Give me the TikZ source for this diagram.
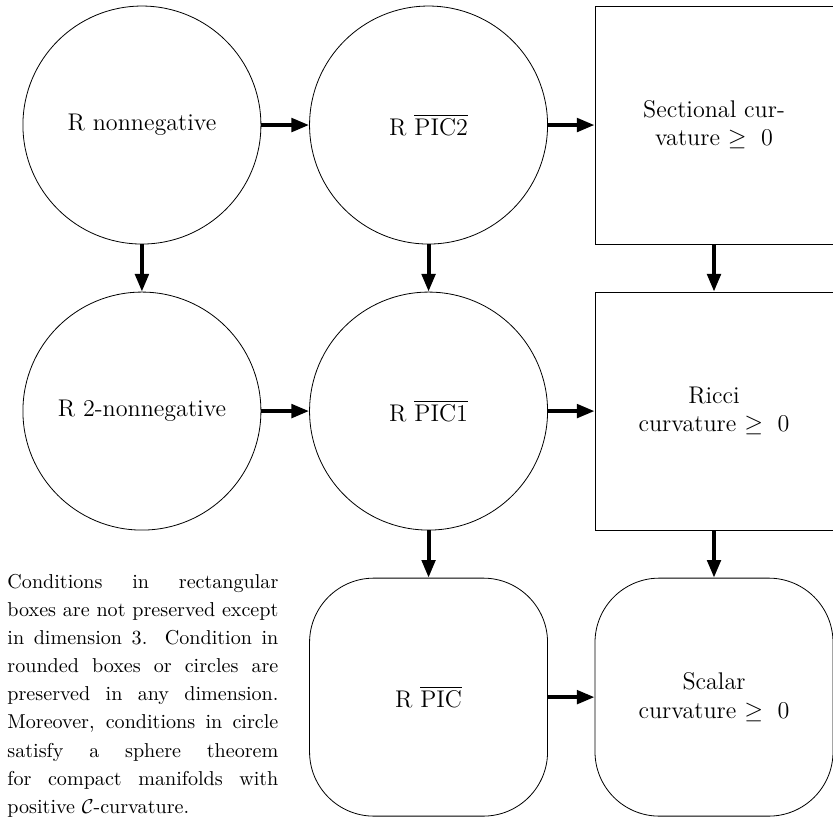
\documentclass[tikz,border=0pt]{standalone}
\usetikzlibrary{arrows.meta}
\begin{document}
\begin{tikzpicture}[
  circ/.style={circle, draw, line width=0.4pt, minimum size=118.4pt, inner sep=0pt, font=\large},
  sqbox/.style={rectangle, draw, line width=0.4pt, minimum size=118.4pt, inner sep=0pt, font=\large, align=center},
  rbox/.style={sqbox, rounded corners=32pt},
  arr/.style={-{Triangle[length=8.8pt,width=6.6pt]}, line width=2pt},
  note/.style={text width=134.8pt, inner sep=0pt, align=justify, font=\fontsize{10}{14}\selectfont}
]
\useasboundingbox (0,0) rectangle (414.4pt,-410pt);
\node[circ] (a) at (70.6pt,-62.2pt) {R nonnegative};
\node[circ] (b) at (213.2pt,-62.2pt) {R $\overline{\mathrm{PIC2}}$};
\node[sqbox] (c) at (355.2pt,-62.2pt) {Sectional cur-\\vature $\geq\ 0$};
\node[circ] (d) at (70.6pt,-204.5pt) {R 2-nonnegative};
\node[circ] (e) at (213.2pt,-204.5pt) {R $\overline{\mathrm{PIC1}}$};
\node[sqbox] (f) at (355.2pt,-204.5pt) {Ricci\\curvature $\geq\ 0$};
\node[rbox] (g) at (213.2pt,-346.8pt) {R $\overline{\mathrm{PIC}}$};
\node[rbox] (h) at (355.2pt,-346.8pt) {Scalar\\curvature $\geq\ 0$};
\node[note, anchor=base west] (t) at (3.5pt,-292.6pt) {Conditions in rectangular\linebreak boxes are not preserved except\linebreak in dimension 3. Condition in\linebreak rounded boxes or circles are\linebreak preserved in any dimension.\linebreak Moreover, conditions in circle\linebreak satisfy a sphere theorem\linebreak for compact manifolds with\linebreak positive $\mathcal{C}$-curvature.};
\draw[arr] (a) -- (b);
\draw[arr] (b) -- (c);
\draw[arr] (a) -- (d);
\draw[arr] (b) -- (e);
\draw[arr] (c) -- (f);
\draw[arr] (d) -- (e);
\draw[arr] (e) -- (f);
\draw[arr] (e) -- (g);
\draw[arr] (f) -- (h);
\draw[arr] (g) -- (h);
\end{tikzpicture}
\end{document}
